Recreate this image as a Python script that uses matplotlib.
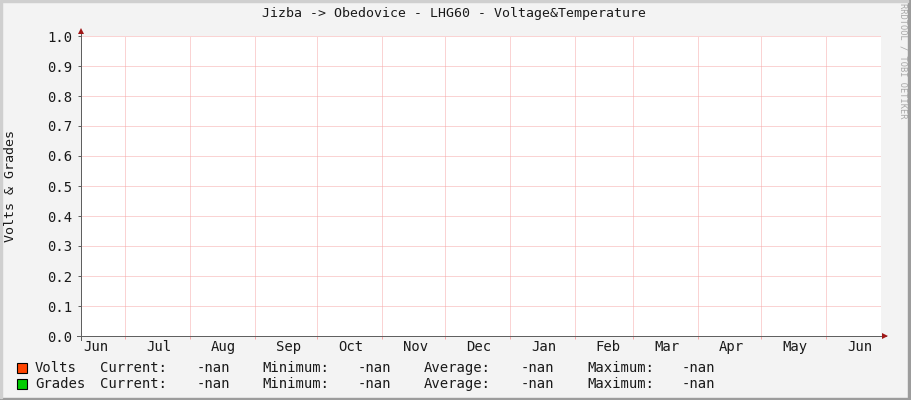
import datetime as dt
import numpy as np
import matplotlib
matplotlib.use('Agg')
import matplotlib.pyplot as plt
import matplotlib.dates as mdates
from matplotlib.patches import Rectangle

# Chart data (the RRD file holds no values, every sample is unknown)
title = 'Jizba -> Obedovice - LHG60 - Voltage&Temperature'
y_label = 'Volts & Grades'
watermark = 'RRDTOOL / TOBI OETIKER'
start = dt.datetime(2020, 6, 10)
end = dt.datetime(2021, 6, 27, 7)
sample_times = [start, end]
volts = [np.nan, np.nan]
grades = [np.nan, np.nan]
series_names = ['Volts', 'Grades']
series_colors = ['#FF4400', '#00CC00']
stat_names = ['Current:', 'Minimum:', 'Average:', 'Maximum:']
stat_values = [['-nan', '-nan', '-nan', '-nan'],
               ['-nan', '-nan', '-nan', '-nan']]
y_min, y_max, y_step = 0.0, 1.0, 0.1

W, H = 911, 400
FONT = 'DejaVu Sans Mono'
plt.rcParams['font.family'] = FONT
TEXT_COLOR = '#1A1A1A'


def fx(px):
    return px / W


def fy(py):
    return 1 - py / H


fig = plt.figure(figsize=(W / 100, H / 100), dpi=100, facecolor='#F3F3F3')

# plot area: 800 x 300 px, left edge at x=81, bottom at y=336
ax = fig.add_axes([fx(81), fy(336), fx(800), 300 / H])
ax.set_facecolor('white')
ax.plot(sample_times, volts, color=series_colors[0], lw=1)
ax.plot(sample_times, grades, color=series_colors[1], lw=1)

ax.set_xlim(start, end)
ax.set_ylim(y_min, y_max)

# months: grid on month boundaries, label in the middle of the month
ax.xaxis.set_major_locator(mdates.MonthLocator())
ax.xaxis.set_major_formatter(plt.NullFormatter())
ax.xaxis.set_minor_locator(mdates.MonthLocator(bymonthday=17))
ax.xaxis.set_minor_formatter(mdates.DateFormatter('%b'))
ax.set_yticks(np.arange(y_min, y_max + y_step / 2, y_step))
ax.yaxis.set_major_formatter(plt.FormatStrFormatter('%.1f'))

grid_color = '#F7A8A8'
ax.grid(which='major', color=grid_color, linestyle=(0, (1, 1)), lw=0.72,
        snap=True)
ax.set_axisbelow(True)
for s in ax.spines.values():
    s.set_visible(False)

ax.tick_params(axis='x', which='major', length=2.5, color=grid_color,
               width=0.72)
ax.tick_params(axis='x', which='minor', length=0, pad=3, labelsize=10,
               labelcolor=TEXT_COLOR)
ax.tick_params(axis='y', length=2.5, color='#606060', width=0.72, pad=4,
               labelsize=10, labelcolor=TEXT_COLOR)

# axis lines with arrows, like rrdtool draws them
axis_color = '#606060'
arrow_color = '#A01818'
ax.plot([-4 / 800, 1 + 5 / 800], [0, 0], color=axis_color, lw=0.72,
        transform=ax.transAxes, clip_on=False)
ax.plot([0, 0], [-4 / 300, 1 + 5 / 300], color=axis_color, lw=0.72,
        transform=ax.transAxes, clip_on=False)
ax.plot(1 + 4 / 800, 0, marker='>', ms=4.5, color=arrow_color, mew=0,
        transform=ax.transAxes, clip_on=False)
ax.plot(0, 1 + 5 / 300, marker='^', ms=4.5, color=arrow_color, mew=0,
        transform=ax.transAxes, clip_on=False)

# texts
fig.text(fx(454), fy(14), title, ha='center', va='center', fontsize=9.5,
         color=TEXT_COLOR)
fig.text(fx(11), fy(186), y_label, ha='center', va='center', rotation=90,
         fontsize=9.6, color=TEXT_COLOR)
fig.text(fx(903), fy(61), watermark, ha='center', va='center', rotation=270,
         fontsize=6.2, color='#A8A8A8')

# legend
rows_y = [368, 384]
col_x = [100, 197, 262, 358, 424, 521, 587, 682]
for i, name in enumerate(series_names):
    y = rows_y[i]
    fig.patches.append(Rectangle((fx(17), fy(y + 5)), 10 / W, 10 / H,
                                 facecolor=series_colors[i],
                                 edgecolor='black', lw=0.8,
                                 transform=fig.transFigure))
    fig.text(fx(35), fy(y), name, va='center', fontsize=10, color=TEXT_COLOR)
    for j, stat in enumerate(stat_names):
        fig.text(fx(col_x[2 * j]), fy(y), stat, va='center', fontsize=10,
                 color=TEXT_COLOR)
        fig.text(fx(col_x[2 * j + 1]), fy(y), stat_values[i][j],
                 va='center', fontsize=10, color=TEXT_COLOR)

# image frame: light on top/left, darker on bottom/right
fig.patches.append(Rectangle((0, 0), 1, 2 / H, color='#9C9C9C',
                             transform=fig.transFigure))
fig.patches.append(Rectangle((1 - 3 / W, 0), 3 / W, 1, color='#9C9C9C',
                             transform=fig.transFigure))
fig.patches.append(Rectangle((0, 1 - 2 / H), 1 - 3 / W, 2 / H,
                             color='#CFCFCF', transform=fig.transFigure))
fig.patches.append(Rectangle((0, 2 / H), 2 / W, 1 - 4 / H, color='#CFCFCF',
                             transform=fig.transFigure))

fig.savefig('out.png', dpi=100, facecolor=fig.get_facecolor())
